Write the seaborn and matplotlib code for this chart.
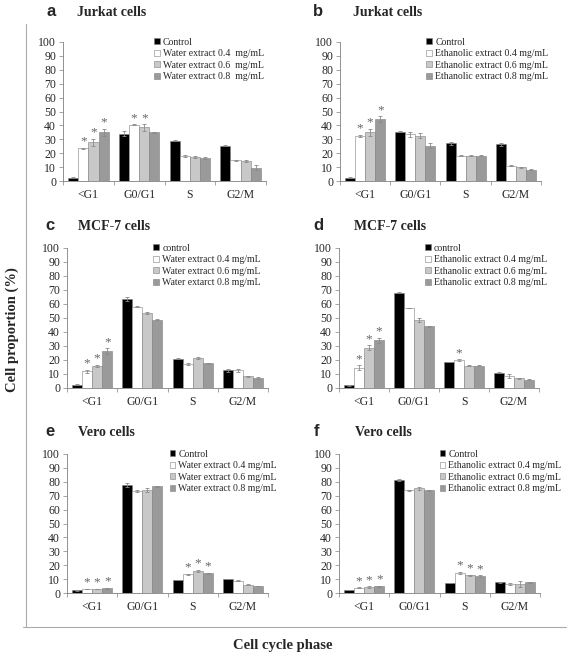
import numpy as np
import pandas as pd
import matplotlib
matplotlib.use('Agg')
import matplotlib.pyplot as plt
from matplotlib.lines import Line2D
from matplotlib.container import BarContainer
import seaborn as sns

# ------------------------------------------------------------
# data
# ------------------------------------------------------------
phases = ['<G1', 'G0/G1', 'S', 'G2/M']
doses = ['0.4', '0.6', '0.8']

# rows = Control, 0.4, 0.6, 0.8 mg/mL ; columns = phases
jurkat_water = [[2.4, 34.0, 29.0, 25.4],
                [23.5, 40.5, 18.0, 15.0],
                [28.0, 38.5, 17.5, 14.2],
                [35.0, 35.0, 16.6, 9.5]]
jurkat_water_err = [[0.3, 1.8, 0.4, 0.3],
                    [0.4, 0.4, 0.4, 0.4],
                    [2.5, 2.2, 0.6, 0.8],
                    [2.5, 0.6, 0.5, 1.8]]
jurkat_water_star = [[0, 0, 0, 0], [1, 1, 0, 0], [1, 1, 0, 0], [1, 0, 0, 0]]

jurkat_eth = [[2.4, 35.6, 27.2, 26.3],
              [32.6, 33.8, 18.3, 11.0],
              [35.0, 32.4, 18.2, 9.9],
              [44.6, 25.3, 18.3, 8.0]]
jurkat_eth_err = [[0.3, 0.5, 1.0, 0.8],
                  [0.8, 1.8, 0.3, 0.4],
                  [2.5, 1.8, 0.3, 0.5],
                  [2.0, 1.8, 0.4, 0.4]]
jurkat_eth_star = [[0, 0, 0, 0], [1, 0, 0, 0], [1, 0, 0, 0], [1, 0, 0, 0]]

mcf7_water = [[2.4, 63.3, 21.0, 12.6],
              [11.9, 58.0, 17.2, 12.6],
              [15.9, 53.6, 21.4, 8.4],
              [26.3, 48.8, 17.6, 7.1]]
mcf7_water_err = [[0.2, 1.5, 0.5, 1.0],
                  [1.0, 0.4, 0.8, 1.0],
                  [0.6, 1.0, 0.5, 0.5],
                  [2.0, 0.4, 0.5, 0.6]]
mcf7_water_star = [[0, 0, 0, 0], [1, 0, 0, 0], [1, 0, 0, 0], [1, 0, 0, 0]]

mcf7_eth = [[1.9, 68.0, 18.6, 11.0],
            [14.6, 57.2, 19.8, 8.3],
            [28.8, 48.4, 15.8, 7.1],
            [34.0, 44.0, 15.8, 6.0]]
mcf7_eth_err = [[0.2, 0.4, 0.3, 0.3],
                [1.5, 0.3, 0.6, 1.4],
                [1.8, 1.5, 0.4, 0.4],
                [1.8, 0.4, 0.4, 0.6]]
mcf7_eth_star = [[0, 0, 0, 0], [1, 0, 1, 0], [1, 0, 0, 0], [1, 0, 0, 0]]

vero_water = [[1.9, 77.8, 9.4, 10.1],
              [2.8, 73.6, 13.4, 8.9],
              [2.9, 74.2, 16.0, 6.0],
              [3.4, 76.8, 14.1, 5.0]]
vero_water_err = [[0.2, 1.5, 0.3, 0.3],
                  [0.2, 0.6, 0.6, 0.5],
                  [0.3, 1.5, 0.8, 0.4],
                  [0.5, 0.5, 0.4, 0.3]]
vero_water_star = [[0, 0, 0, 0], [1, 0, 1, 0], [1, 0, 1, 0], [1, 0, 1, 0]]

vero_eth = [[2.2, 81.5, 7.2, 7.7],
            [3.9, 74.0, 14.6, 6.5],
            [4.3, 75.2, 12.8, 6.7],
            [4.8, 74.0, 12.3, 7.6]]
vero_eth_err = [[0.2, 0.8, 0.2, 0.3],
                [0.2, 0.4, 0.8, 0.8],
                [0.4, 0.8, 0.4, 2.2],
                [0.4, 0.4, 0.5, 0.5]]
vero_eth_star = [[0, 0, 0, 0], [1, 0, 1, 0], [1, 0, 1, 0], [1, 0, 1, 0]]

labels_a = ['Control'] + ['Water extract %s  mg/mL' % d for d in doses]
labels_b = ['Control'] + ['Ethanolic extract %s mg/mL' % d for d in doses]
labels_c = ['control', 'Water extract 0.4 mg/mL', 'Water extract 0.6 mg/mL',
            'Water extarct 0.8 mg/mL']
labels_d = ['control'] + ['Ethanolic extract %s mg/mL' % d for d in doses]
labels_e = ['Control'] + ['Water extract %s mg/mL' % d for d in doses]
labels_f = ['Control'] + ['Ethanolic extract %s mg/mL' % d for d in doses]

bar_colors = ['#000000', '#ffffff', '#c8c8c8', '#9a9a9a']

# ------------------------------------------------------------
# style
# ------------------------------------------------------------
sns.set_style('white')
plt.rcParams['font.family'] = ['Liberation Serif', 'DejaVu Serif']
plt.rcParams['axes.linewidth'] = 0.6

W, H = 567, 655
fig = plt.figure(figsize=(W / 100, H / 100), dpi=100)

# letter, title, values, err, stars, labels, axes box (px), legend x, letter pos, title x
panels = [
    ('a', 'Jurkat cells', jurkat_water, jurkat_water_err, jurkat_water_star, labels_a,
     (63, 42, 266, 181), 0.45, (51, 12), 77),
    ('b', 'Jurkat cells', jurkat_eth, jurkat_eth_err, jurkat_eth_star, labels_b,
     (340, 42, 541, 181), 0.43, (318, 12), 353),
    ('c', 'MCF-7 cells', mcf7_water, mcf7_water_err, mcf7_water_star, labels_c,
     (67, 248, 268, 388), 0.43, (50, 226), 78),
    ('d', 'MCF-7 cells', mcf7_eth, mcf7_eth_err, mcf7_eth_star, labels_d,
     (339, 248, 539, 388), 0.43, (318, 226), 354),
    ('e', 'Vero cells', vero_water, vero_water_err, vero_water_star, labels_e,
     (67, 454, 268, 593), 0.51, (50, 432), 78),
    ('f', 'Vero cells', vero_eth, vero_eth_err, vero_eth_star, labels_f,
     (339, 454, 540, 593), 0.50, (317, 432), 355),
]

for letter, title, vals, errs, stars, labels, box, leg_x, lpos, tx in panels:
    x0, y0, x1, y1 = box
    ax = fig.add_axes([x0 / W, 1 - y1 / H, (x1 - x0) / W, (y1 - y0) / H])

    rows = []
    for i, lab in enumerate(labels):
        for j, ph in enumerate(phases):
            rows.append({'phase': ph, 'treatment': lab, 'value': vals[i][j]})
    df = pd.DataFrame(rows)

    sns.barplot(data=df, x='phase', y='value', hue='treatment', order=phases,
                hue_order=labels, palette=bar_colors, errorbar=None, width=0.8,
                edgecolor='#808080', linewidth=0.4, ax=ax)

    # error bars and asterisks from the drawn bars
    bar_groups = [c for c in ax.containers if isinstance(c, BarContainer)]
    for i, cont in enumerate(bar_groups):
        for j, bar in enumerate(cont):
            xc = bar.get_x() + bar.get_width() / 2
            h = bar.get_height()
            ax.errorbar(xc, h, yerr=errs[i][j], color='#8a8a8a', lw=0.6,
                        capsize=1.5, capthick=0.6)
            if stars[i][j]:
                ax.text(xc, h + errs[i][j] + 4.5, '*', ha='center', va='center',
                        fontsize=9.5, color='#666666')

    ax.set_ylim(0, 100)
    ax.set_xlim(-0.5, 3.5)
    ax.set_yticks(np.arange(0, 101, 10))
    ax.tick_params(axis='y', labelsize=8.5, length=3, width=0.5, direction='out',
                   color='#808080', pad=2, left=True)
    ax.tick_params(axis='x', which='major', labelsize=8.5, length=0, pad=6)
    ax.set_xticks(np.arange(-0.5, 3.6, 1), minor=True)
    ax.tick_params(axis='x', which='minor', length=3, width=0.5, direction='out',
                   color='#808080', bottom=True)
    ax.set_xlabel('')
    ax.set_ylabel('')
    for side in ['top', 'right']:
        ax.spines[side].set_visible(False)
    for side in ['left', 'bottom']:
        ax.spines[side].set_color('#808080')
        ax.spines[side].set_linewidth(0.6)

    leg = ax.legend(loc='upper left', bbox_to_anchor=(leg_x, 1.03), frameon=False,
                    fontsize=7, handlelength=0.6, handleheight=0.6,
                    handletextpad=0.3, labelspacing=0.25, borderpad=0,
                    borderaxespad=0)

    fig.text(lpos[0] / W, 1 - lpos[1] / H, letter, ha='center', va='center',
             fontsize=12, fontweight='bold', family='Liberation Sans')
    fig.text(tx / W, 1 - lpos[1] / H, title, ha='left', va='center',
             fontsize=10, fontweight='bold')

# frame lines around the panel block
fig.add_artist(Line2D([26 / W, 26 / W], [1 - 627 / H, 1 - 24 / H],
                      transform=fig.transFigure, color='#aaaaaa', lw=0.8))
fig.add_artist(Line2D([23 / W, 566 / W], [1 - 627 / H, 1 - 627 / H],
                      transform=fig.transFigure, color='#aaaaaa', lw=0.8))

fig.text(12 / W, 1 - 330 / H, 'Cell proportion (%)', rotation=90, ha='center',
         va='center', fontsize=10.5, fontweight='bold')
fig.text(283 / W, 1 - 646 / H, 'Cell cycle phase', ha='center', va='center',
         fontsize=10.5, fontweight='bold')

fig.savefig('out.png', dpi=100)
